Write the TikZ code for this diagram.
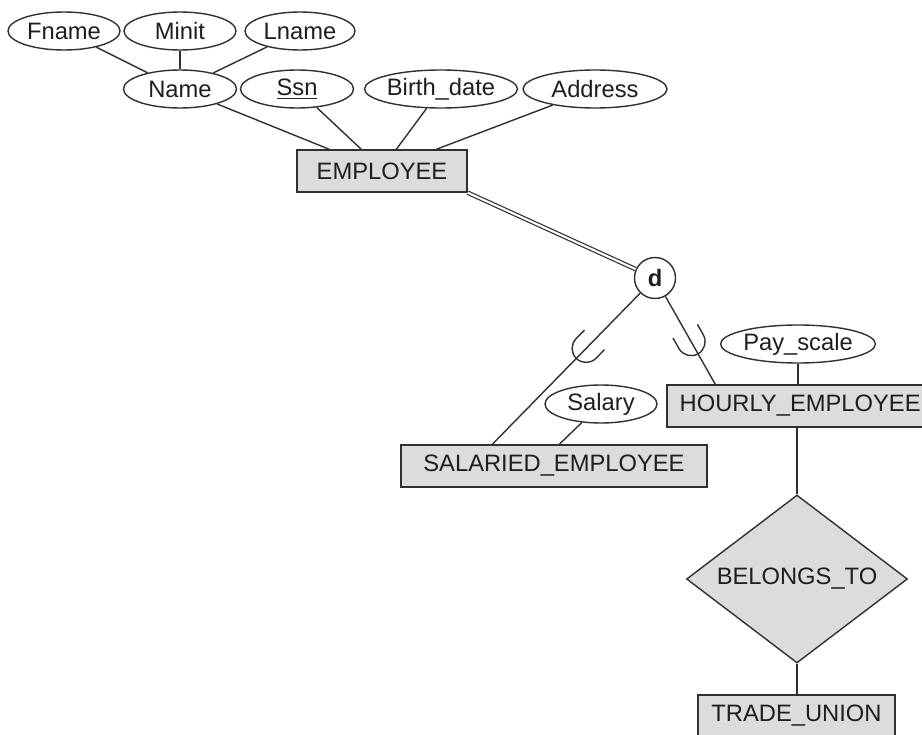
\documentclass[tikz,border=0pt]{standalone}
\usepackage{fontspec}
\setmainfont{Liberation Sans}
\usetikzlibrary{shapes.geometric,decorations.markings}
\definecolor{ink}{HTML}{303030}
\definecolor{boxfill}{HTML}{DCDCDC}
\definecolor{txt}{HTML}{1E1E1E}

\begin{document}
\begin{tikzpicture}[
  x=0.75pt, y=-0.75pt,
  font=\fontsize{17.8}{20}\selectfont,
  every node/.style={text=txt},
  attr/.style={ellipse, draw=ink, fill=white, line width=1.05pt, inner sep=0pt, minimum height=28.5pt},
  entity/.style={rectangle, draw=ink, fill=boxfill, line width=1.05pt, inner sep=0pt, minimum height=31.5pt},
  rel/.style={diamond, draw=ink, fill=boxfill, line width=1.05pt, inner sep=0pt, aspect=1.3},
  disj/.style={circle, draw=ink, fill=white, line width=1.05pt, inner sep=0pt, minimum size=30.75pt,
               font=\fontsize{17.8}{20}\selectfont\bfseries},
  link/.style={draw=ink, line width=1.05pt},
  total/.style={draw=ink, line width=0.9pt, double=white, double distance=1.6pt},
  cupat/.style={postaction={decorate, decoration={markings,
      mark=at position #1 with {\draw[ink, line width=1.05pt]
        (-9pt,10.5pt) -- (0,10.5pt) arc[start angle=90, end angle=-90, radius=10.5pt] -- (-9pt,-10.5pt);}}}}
]
\fill[white] (0,0) rectangle (922,735);
\useasboundingbox (0,0) rectangle (922,735);

% composite attribute Name
\node[attr, minimum width=84pt]   (fname) at (64,31)  {Fname};
\node[attr, minimum width=84pt]   (minit) at (180,31) {Minit};
\node[attr, minimum width=82.5pt] (lname) at (300,31) {Lname};
\node[attr, minimum width=84.75pt] (name) at (180,89) {Name};

% other attributes of EMPLOYEE
\node[attr, minimum width=84.75pt] (ssn)  at (297,89) {\underline{Ssn}};
\node[attr, minimum width=114pt]   (bdate) at (441,89) {Birth\_date};
\node[attr, minimum width=108pt]   (addr) at (595,89) {Address};

% entities
\node[entity, minimum width=127.5pt] (emp) at (382,171) {EMPLOYEE};
\node[entity, minimum width=229.5pt] (sal) at (554,466) {SALARIED\_EMPLOYEE};
\node[entity, minimum width=193.5pt, text width=193.5pt, align=left] (hr) at (796,406) {\hspace{9.5pt}HOURLY\_EMPLOYEE};
\node[entity, minimum width=147.75pt] (tu) at (796.5,716) {TRADE\_UNION};

% relationship
\node[rel, minimum width=165.75pt, minimum height=126pt] (bt) at (797,579) {BELONGS\_TO};

% disjointness circle
\node[disj] (d) at (655,278) {d};

% subclass attributes
\node[attr, minimum width=84pt]     (salary) at (601,404) {Salary};
\node[attr, minimum width=108.75pt] (pay)    at (798,344) {Pay\_scale};

% attachment points on the entity borders
\coordinate (e1) at ([xshift=24.75pt]emp.north west);
\coordinate (e2) at ([xshift=48.75pt]emp.north west);
\coordinate (e3) at ([xshift=75pt]emp.north west);
\coordinate (e4) at ([xshift=105pt]emp.north west);
\coordinate (s1) at ([xshift=69pt]sal.north west);
\coordinate (s2) at ([xshift=119.25pt]sal.north west);
\coordinate (h1) at ([xshift=36.75pt]hr.north west);

% attribute links
\draw[link] (fname) -- (name);
\draw[link] (minit) -- (name);
\draw[link] (lname) -- (name);
\draw[link] (name) -- (e1);
\draw[link] (ssn) -- (e2);
\draw[link] (bdate) -- (e3);
\draw[link] (addr) -- (e4);
\draw[link] (salary) -- (s2);
\draw[link] (pay) -- (pay |- hr.north);

% specialization
\draw[total] (emp.south east) -- (d);
\draw[link, cupat=58pt] (d) -- (s1);
\draw[link, cupat=39pt] (d) -- (h1);

% relationship links
\draw[link] (bt.north |- hr.south) -- (bt.north);
\draw[link] (bt.south) -- (bt.south |- tu.north);
\end{tikzpicture}
\end{document}
